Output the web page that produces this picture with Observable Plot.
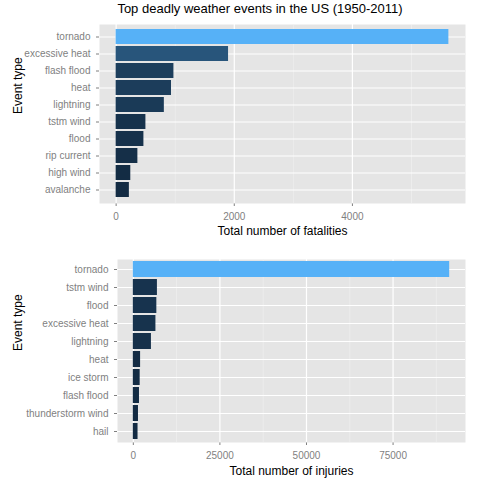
<!DOCTYPE html>
<html><head><meta charset="utf-8">
<script src="https://cdn.jsdelivr.net/npm/d3@7"></script>
<script src="https://cdn.jsdelivr.net/npm/@observablehq/plot@0.6"></script>
<style>body{margin:0;background:#fff;font-family:"Liberation Sans",Arial,sans-serif}
#t{height:20px;text-align:center;font-size:13px;line-height:18px;padding-left:40px;box-sizing:border-box}
svg{display:block}</style></head><body>
<div id="t">Top deadly weather events in the US (1950-2011)</div>
<div id="c"></div>
<script>
const fatalEvents = ["tornado","excessive heat","flash flood","heat","lightning","tstm wind","flood","rip current","high wind","avalanche"];
const fatalValues = [5633,1903,978,937,816,504,470,368,248,224];
const injuryEvents = ["tornado","tstm wind","flood","excessive heat","lightning","heat","ice storm","flash flood","thunderstorm wind","hail"];
const injuryValues = [91346,6957,6789,6525,5230,2100,1975,1777,1488,1361];

function panel(events, values, label, opts) {
  const data = events.map((e,i)=>({e, v: values[i]}));
  const max = d3.max(values);
  const dom = [-0.05*max, 1.05*max];
  const major = opts.major, minor = opts.minor;
  return Plot.plot({
    width: 480, height: 240 - opts.extra, marginTop: opts.mt, marginBottom: opts.mb,
    marginLeft: opts.ml, marginRight: 15,
    style: {fontFamily: "Liberation Sans, Arial, sans-serif", fontSize: "10px", color: "#7f7f7f"},
    x: {domain: dom, ticks: major, tickSize: 3, tickFormat: d=>String(d), label: null},
    y: {domain: events, padding: 0.1, tickSize: 3, label: null},
    color: {type: "linear", domain: [d3.min(values), max], range: ["#132B43","#56B1F7"]},
    marks: [
      Plot.frame({fill: "#e5e5e5", stroke: null}),
      Plot.ruleX(minor, {stroke: "#f2f2f2", strokeWidth: 0.6}),
      Plot.ruleX(major, {stroke: "#fff", strokeWidth: 1.2}),
      Plot.ruleY(events, {y: d=>d, stroke: "#fff", strokeWidth: 1.2}),
      Plot.barX(data, {x: "v", y: "e", fill: "v"}),
      Plot.text([label], {frameAnchor: "bottom", dy: opts.mb - 6, fill: "black", fontSize: 12, text: d=>d}),
      Plot.text(["Event type"], {frameAnchor: "left", dx: -opts.ml + 18, rotate: -90, fill: "black", fontSize: 12, text: d=>d})
    ]
  });
}
const c = document.getElementById("c");
const p1 = panel(fatalEvents, fatalValues, "Total number of fatalities",
  {mt: 4, mb: 37, ml: 99, extra: 20, major: [0,2000,4000], minor: [1000,3000,5000]});
const p2 = panel(injuryEvents, injuryValues, "Total number of injuries",
  {mt: 19, mb: 38, ml: 117, extra: 0, major: [0,25000,50000,75000], minor: [12500,37500,62500,87500]});
c.append(p1, p2);
c.querySelectorAll("svg").forEach(s=>s.style.overflow="visible");
</script></body></html>
